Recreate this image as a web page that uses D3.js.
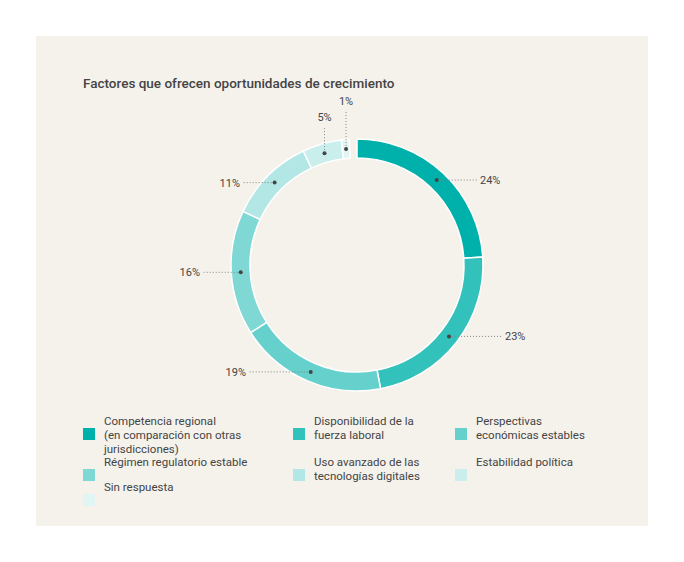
<!DOCTYPE html><html><head><meta charset="utf-8">
<script src="https://cdn.jsdelivr.net/npm/d3@7"></script>
<style>body{margin:0;background:#fff;font-family:Roboto,sans-serif}</style></head><body>
<svg id="c" width="684" height="562"></svg>
<script>
const categories=["Competencia regional\n(en comparación con otras\njurisdicciones)","Disponibilidad de la\nfuerza laboral","Perspectivas\neconómicas estables","Régimen regulatorio estable","Uso avanzado de las\ntecnologías digitales","Estabilidad política","Sin respuesta"];
const values=[24,23,19,16,11,5,1];
const colors=["#00b1ab","#33c1bc","#66d0cc","#80d8d5","#b3e7e5","#c9eeec","#e0f5f4"];
// label layout: mode h = horizontal leader to x, v = vertical leader to y
const labelLayout=[{m:"h",x:480},{m:"h",x:505},{m:"h",x:246,a:"end"},{m:"h",x:200,a:"end"},{m:"h",x:240,a:"end"},{m:"v",y:123},{m:"v",y:107}];
const svg=d3.select("#c");
svg.append("rect").attr("x",36).attr("y",36).attr("width",612).attr("height",490).attr("fill","#f5f2ec");
svg.append("text").attr("x",83).attr("y",88).attr("font-size",13.5).attr("font-weight",500).attr("fill","#444").text("Factores que ofrecen oportunidades de crecimiento");
const cx=357,cy=265,ro=126,ri=107;
const total=d3.sum(values);
const pie=d3.pie().sort(null).value(d=>d).endAngle(2*Math.PI*total/100);
const arcs=pie(values);
const arc=d3.arc().innerRadius(ri).outerRadius(ro);
const g=svg.append("g").attr("transform",`translate(${cx},${cy})`);
g.selectAll("path").data(arcs).join("path").attr("d",arc).attr("fill",(d,i)=>colors[i]).attr("stroke","#fff").attr("stroke-width",1.5);
const rm=(ri+ro)/2;
arcs.forEach((d,i)=>{
  const a=(d.startAngle+d.endAngle)/2;
  const px=rm*Math.sin(a), py=-rm*Math.cos(a);
  const L=labelLayout[i];
  let tx,ty,anchor;
  if(L.m==="h"){tx=L.x-cx;ty=py;anchor=L.a||"start";
    g.append("line").attr("x1",px).attr("y1",py).attr("x2",tx+(anchor==="end"?2:-3)).attr("y2",py);
    tx=tx+(anchor==="end"?0:0);}
  else{tx=px;ty=L.y-cy;anchor="middle";
    g.append("line").attr("x1",px).attr("y1",py).attr("x2",px).attr("y2",ty+4);}
  g.selectAll("line").attr("stroke","#888").attr("stroke-dasharray","1,2").attr("stroke-width",1);
  g.append("circle").attr("cx",px).attr("cy",py).attr("r",2).attr("fill","#444");
  g.append("text").attr("x",tx).attr("y",L.m==="h"?ty+4:ty-2).attr("text-anchor",anchor).attr("font-size",11).attr("fill","#444").text(values[i]+"%");
});
const cols=[83,293,455];
const rows=[425,466,491];
const pos=[[0,0],[1,0],[2,0],[0,1],[1,1],[2,1],[0,2]];
categories.forEach((c,i)=>{
  const [ci,ri2]=pos[i];const x=cols[ci],y=rows[ri2];
  const lines=c.split("\n");
  svg.append("rect").attr("x",x).attr("y",y+3).attr("width",12).attr("height",12).attr("fill",colors[i]);
  const t=svg.append("text").attr("x",x+21).attr("y",y).attr("font-size",11.5).attr("fill","#444");
  lines.forEach((l,k)=>t.append("tspan").attr("x",x+21).attr("dy",k?14:0).text(l));
});
</script></body></html>
